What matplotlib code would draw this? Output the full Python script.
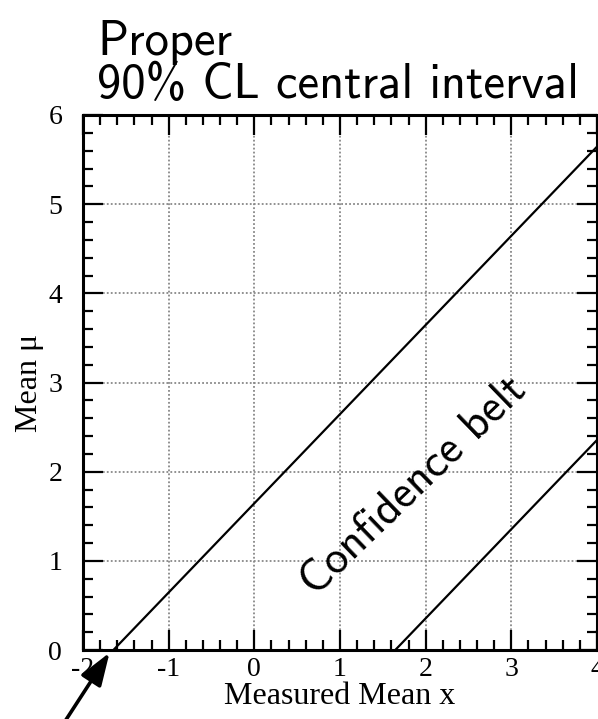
import numpy as np
import matplotlib
matplotlib.use("Agg")
import matplotlib.pyplot as plt
from matplotlib.ticker import MultipleLocator

# --- data ---
x_range = [-2.0, 4.0]
belt_offsets = [1.645, -1.645]   # mu = x + offset (upper / lower edge of belt)
x_ticks = [-2, -1, 0, 1, 2, 3, 4]
y_ticks = [0, 1, 2, 3, 4, 5, 6]
title_text = "Proper\n90% CL central interval"
belt_label = "Confidence belt"

fig = plt.figure(figsize=(5.98, 7.19), dpi=100)
ax = fig.add_axes([83 / 598, 69 / 719, 514 / 598, 535 / 719])

xs = np.array(x_range)
for off in belt_offsets:
    ax.plot(xs, xs + off, color="black", lw=1.6, solid_capstyle="butt")

ax.set_xlim(-2, 4)
ax.set_ylim(0, 6)
ax.set_xticks(x_ticks)
ax.set_yticks(y_ticks)
ax.xaxis.set_minor_locator(MultipleLocator(0.2))
ax.yaxis.set_minor_locator(MultipleLocator(0.2))
ax.grid(True, which="major", ls=(0, (1, 1.2)), color="#888888", lw=1.3)

ax.tick_params(which="both", direction="in", top=True, right=True, width=1.6,
               labelsize=20)
ax.tick_params(axis="x", pad=5)
ax.tick_params(axis="y", pad=15)
ax.tick_params(which="major", length=14.5)
ax.tick_params(which="minor", length=7.2)
for s in ax.spines.values():
    s.set_linewidth(2.2)
ax.set_xticklabels([str(t) for t in x_ticks])
ax.set_yticklabels([str(t) for t in y_ticks])
for lab in ax.get_xticklabels() + ax.get_yticklabels():
    lab.set_family("Liberation Serif")

ax.set_xlabel("Measured Mean x", family="Liberation Serif", fontsize=23, labelpad=0)
ax.set_ylabel("Mean μ", family="Liberation Serif", fontsize=23, labelpad=3)

fig.text(97 / 598, 1 - 98 / 719, title_text, family="cmss10", fontsize=35,
         ha="left", va="baseline", linespacing=0.95)

ax.text(1.86, 1.83, belt_label, family="cmss10", fontsize=33, rotation=44,
        ha="center", va="center", rotation_mode="anchor")

ax.annotate("", xy=(-1.69, -0.03), xycoords="data",
            xytext=(60, -10), textcoords="figure pixels",
            annotation_clip=False,
            arrowprops=dict(arrowstyle="-|>,head_length=2.0,head_width=0.7",
                            color="black", lw=2.6, shrinkA=0, shrinkB=0))

fig.savefig("out.png", dpi=100)
